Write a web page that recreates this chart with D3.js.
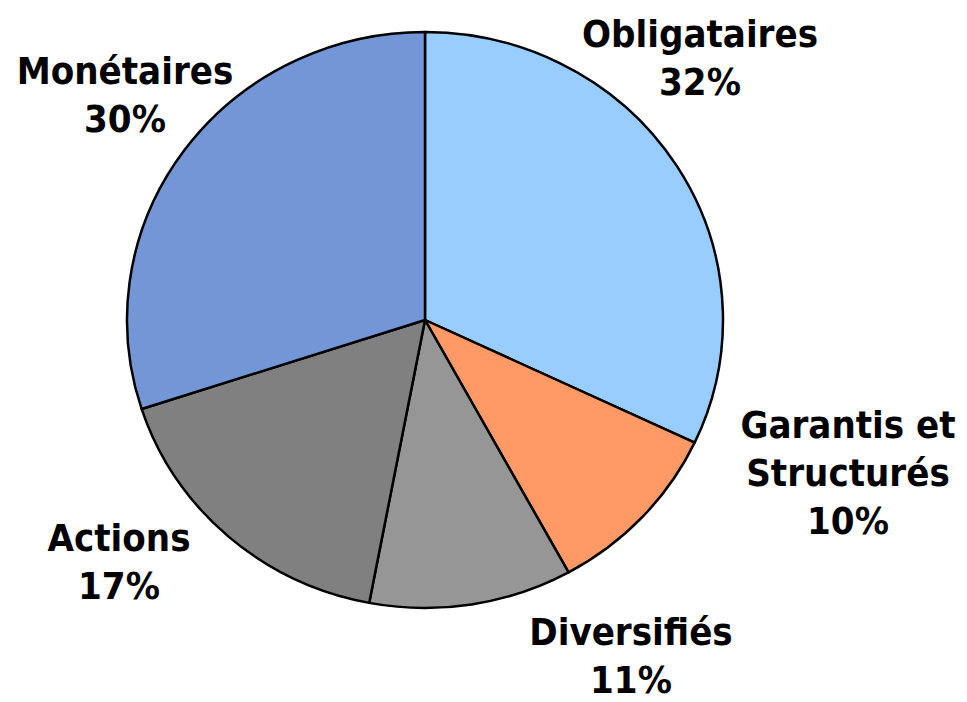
<!DOCTYPE html>
<html>
<head>
<meta charset="utf-8">
<script src="https://cdn.jsdelivr.net/npm/d3@7"></script>
<style>
  body { margin: 0; background: #fff; }
  text { font-family: "DejaVu Sans Condensed", "DejaVu Sans", sans-serif; font-weight: bold; }
</style>
</head>
<body>
<div id="container"></div>
<script>
// Data
var categories = ["Obligataires", "Garantis et Structurés", "Diversifiés", "Actions", "Monétaires"];
var values = [32, 10, 11, 17, 30];
var labelLines = [["Obligataires"], ["Garantis et", "Structurés"], ["Diversifiés"], ["Actions"], ["Monétaires"]];
var colors = ["#99ccff", "#ff9966", "#969696", "#808080", "#7396d6"];

// Set width and height
var width = 967,
    height = 702;

var cx = 425, cy = 320,
    rx = 298, ry = 288;

var svg = d3.select("#container")
            .append("svg")
              .attr("width", width)
              .attr("height", height);

// Pie layout, clockwise from 12 o'clock, no sorting
var pie = d3.pie()
            .sort(null)
            .value(function(d) { return d.value; });

var data_ready = pie(categories.map(function(c, i) {
  return {key: c, value: values[i], lines: labelLines[i], color: colors[i]};
}));

var arc = d3.arc()
            .innerRadius(0)
            .outerRadius(rx);

// Slightly squashed ellipse
var g = svg.append("g")
           .attr("transform", "translate(" + cx + "," + cy + ") scale(1," + (ry / rx) + ")");

g.selectAll("path")
  .data(data_ready)
  .enter()
  .append("path")
    .attr("d", arc)
    .attr("fill", function(d) { return d.data.color; })
    .attr("stroke", "#000")
    .attr("stroke-width", 2.5)
    .attr("stroke-linejoin", "round");

// Label positions (center x, first baseline y)
var labelPos = [[700, 47], [848, 438], [631, 645], [119, 551], [125, 84]];

var labels = svg.selectAll("text.lbl")
  .data(data_ready)
  .enter()
  .append("text")
    .attr("class", "lbl")
    .attr("text-anchor", "middle")
    .style("font-size", "38px")
    .attr("fill", "#000");

labels.each(function(d, i) {
  var t = d3.select(this);
  var lines = d.data.lines.concat([d.data.value + "%"]);
  lines.forEach(function(l, j) {
    t.append("tspan")
      .attr("x", labelPos[i][0])
      .attr("y", labelPos[i][1] + j * 48)
      .text(l);
  });
});
</script>
</body>
</html>
